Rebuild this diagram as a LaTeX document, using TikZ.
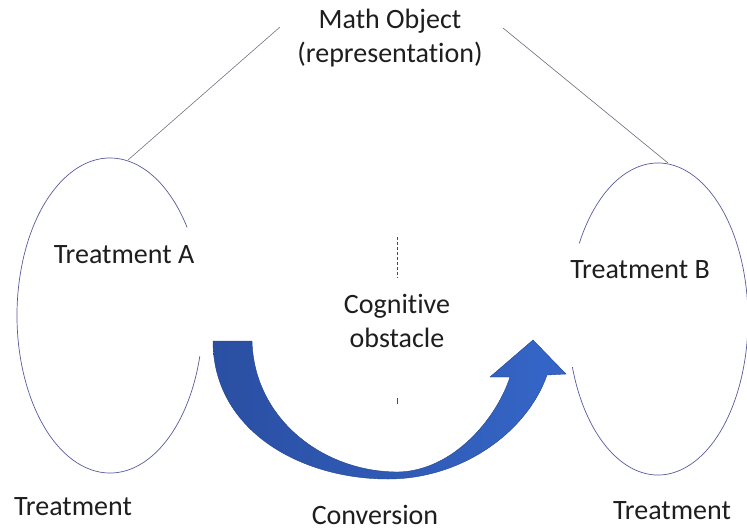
\documentclass[tikz,border=0pt]{standalone}
\usepackage{fontspec}
\setmainfont{Carlito}[Ligatures=NoCommon]
\definecolor{ovalc}{HTML}{5A5A9E}
\definecolor{linkc}{HTML}{6E6E80}
\definecolor{txtc}{HTML}{1E1E1E}
\definecolor{arrL}{HTML}{2A4FA2}
\definecolor{arrR}{HTML}{3566C8}
\definecolor{arrE}{HTML}{22428C}
\begin{document}
\begin{tikzpicture}[x=1pt,y=-1pt,
  lbl/.style={font=\fontsize{28}{34}\selectfont, text=txtc, inner sep=0pt, align=center},
  oval/.style={draw=ovalc, line width=0.7pt},
  link/.style={draw=linkc, line width=0.6pt},
  dashline/.style={draw=txtc!80, line width=0.8pt, dash pattern=on 3pt off 2pt}]
\useasboundingbox[fill=white] (0,0) rectangle (747,531);

% ovals (open arcs)
\draw[oval] (110,315.5) ++(15:93 and 157.5) arc[start angle=15, end angle=326, x radius=93, y radius=157.5];
\draw[oval] (658,319) ++(162:90 and 156) arc[start angle=162, end angle=-151, x radius=90, y radius=156];

% text
\node[lbl, anchor=base] (mo) at (390,62) {Math Object\\(representation)};
\node[lbl, anchor=base] (ta) at (124,263) {Treatment A};
\node[lbl, anchor=base] (tb) at (640,278) {Treatment B};
\node[lbl, anchor=base] (co) at (397,347) {Cognitive\\obstacle};
\node[lbl, anchor=base] (tl) at (73,515) {Treatment};
\node[lbl, anchor=base] (tr) at (672,519) {Treatment};
\node[lbl, anchor=base] (cv) at (375,524) {Conversion};

% connector end points
\coordinate (ml) at (280,27);
\coordinate (mr) at (503,28);
\coordinate (lt) at (128,160);
\coordinate (rt) at (668,163);
\draw[link] (ml) -- (lt);
\draw[link] (mr) -- (rt);

% dashed marks
\coordinate (d1) at (397,237);
\coordinate (d2) at (397,278);
\draw[dashline] (d1) -- (d2);
\coordinate (k1) at (397,398);
\coordinate (k2) at (397,404);
\draw[draw=txtc!80, line width=0.8pt] (k1) -- (k2);

% curved conversion arrow
\shade[left color=arrL, right color=arrR, draw=arrE, line width=0.4pt]
  (213,341) -- (252,341)
  .. controls (254,418) and (322,472) .. (398,472)
  .. controls (452,471) and (496,420) .. (510,377)
  -- (490,377) -- (533,340) -- (566,374) -- (547,375)
  .. controls (527,432) and (462,479) .. (388,479)
  .. controls (300,479) and (213,430) .. cycle;
\end{tikzpicture}
\end{document}
